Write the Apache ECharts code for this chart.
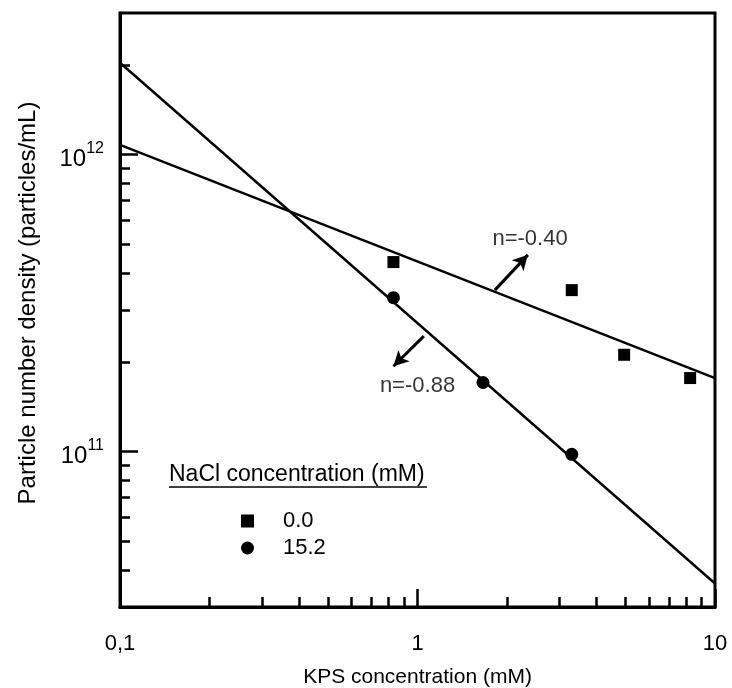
<!DOCTYPE html>
<html>
<head>
<meta charset="utf-8">
<script src="https://cdn.jsdelivr.net/npm/echarts@6/dist/echarts.min.js"></script>
<style>html,body{margin:0;background:#fff}#main{width:732px;height:688px}</style>
</head>
<body>
<div id="main"></div>
<script>
// KPS concentration (mM) / particle number density (particles/mL)
var kpsSquare = [0.83, 3.3, 4.95, 8.25];
var densSquare = [4.35e11, 3.5e11, 2.12e11, 1.77e11];
var kpsCircle = [0.83, 1.66, 3.3];
var densCircle = [3.3e11, 1.71e11, 0.98e11];
// power-law fits, end points at the axis limits
var fitX = [0.1, 10];
var fitSquare = [1.08e12, 1.77e11];
var fitCircle = [2.04e12, 3.6e10];
// slope notes and their arrows
var noteText = ['n=-0.40', 'n=-0.88'];
var notePos = [[2.39, 5.2e11], [1.0, 1.66e11]];
var arrowFrom = [[1.82, 3.5e11], [1.05, 2.45e11]];
var arrowTo = [[2.35, 4.6e11], [0.83, 1.94e11]];
// ticks
var xMajor = [0.1, 1, 10];
var xMinor = [0.2, 0.3, 0.4, 0.5, 0.6, 0.7, 0.8, 0.9, 2, 3, 4, 5, 6, 7, 8, 9];
var yMajor = [1e11, 1e12];
var yMinor = [4e10, 5e10, 6e10, 7e10, 8e10, 9e10, 2e11, 3e11, 4e11, 5e11, 6e11, 7e11, 8e11, 9e11, 2e12];

var FONT = '"Liberation Sans", Arial, sans-serif';

function pairs(xs, ys) {
  var out = [];
  for (var i = 0; i < xs.length; i++) out.push([xs[i], ys[i]]);
  return out;
}

var myChart = echarts.init(document.getElementById('main'));

var arrowData = [];
for (var i = 0; i < arrowFrom.length; i++) {
  arrowData.push([{coord: arrowFrom[i], symbol: 'none'}, {coord: arrowTo[i], symbol: 'arrow'}]);
}

function xAxisDef(ticks, len, withLabel) {
  return {
    type: 'log', logBase: 10, min: 0.1, max: 10,
    position: 'bottom',
    axisLine: {show: withLabel, lineStyle: {color: '#000', width: 3}},
    axisTick: {show: true, inside: true, length: len, customValues: ticks,
      lineStyle: {color: '#000', width: 2.5}},
    axisLabel: withLabel ? {
      show: true, customValues: xMajor, color: '#000', fontFamily: FONT, fontSize: 22, margin: 26,
      formatter: function (v) { return v < 0.5 ? '0,1' : String(Math.round(v)); }
    } : {show: false},
    splitLine: {show: false},
    name: withLabel ? 'KPS concentration (mM)' : '',
    nameLocation: 'middle', nameGap: 60,
    nameTextStyle: {color: '#000', fontFamily: FONT, fontSize: 21}
  };
}

function yAxisDef(ticks, len, withLabel) {
  return {
    type: 'log', logBase: 10, min: 3e10, max: 3e12,
    position: 'left',
    axisLine: {show: withLabel, lineStyle: {color: '#000', width: 3}},
    axisTick: {show: true, inside: true, length: len, customValues: ticks,
      lineStyle: {color: '#000', width: 2.5}},
    axisLabel: withLabel ? {
      show: true, customValues: yMajor, margin: 16,
      formatter: function (v) {
        var e = Math.round(Math.log(v) / Math.LN10);
        return '{b|10}{s|' + e + '}';
      },
      rich: {
        b: {color: '#000', fontFamily: FONT, fontSize: 24, lineHeight: 34, verticalAlign: 'bottom'},
        s: {color: '#000', fontFamily: FONT, fontSize: 16, lineHeight: 34, verticalAlign: 'top',
          padding: [3, 0, 0, 0]}
      }
    } : {show: false},
    splitLine: {show: false},
    name: withLabel ? 'Particle number density (particles/mL)' : '',
    nameLocation: 'middle', nameGap: 80,
    nameTextStyle: {color: '#000', fontFamily: FONT, fontSize: 24, padding: [0, 0, 0, 14]}
  };
}

var option = {
  animation: false,
  backgroundColor: '#fff',
  grid: {left: 120, right: 17, top: 13, bottom: 81, show: true, outerBoundsMode: 'none',
    containLabel: false, borderColor: '#000', borderWidth: 3, backgroundColor: 'transparent'},
  xAxis: [xAxisDef(xMajor, 18, true), xAxisDef(xMinor, 10, false)],
  yAxis: [yAxisDef(yMajor, 18, true), yAxisDef(yMinor, 10, false)],
  legend: {
    orient: 'vertical', left: 236, top: 505, itemWidth: 13, itemHeight: 13, itemGap: 5,
    data: ['0.0', '15.2'],
    textStyle: {color: '#000', fontFamily: FONT, fontSize: 22, padding: [0, 0, 0, 24]}
  },
  graphic: [
    {type: 'text', left: 169, top: 463,
      style: {text: 'NaCl concentration (mM)', fill: '#000', font: '23px ' + FONT}},
    {type: 'line', shape: {x1: 169, y1: 487, x2: 427, y2: 487},
      style: {stroke: '#000', lineWidth: 1.5}}
  ],
  series: [
    {
      name: 'fit 0.0', type: 'line', data: pairs(fitX, fitSquare),
      symbol: 'none', lineStyle: {color: '#000', width: 2.4}, silent: true,
      markLine: {
        silent: true, symbolSize: [12, 15], label: {show: false},
        lineStyle: {color: '#000', width: 3, type: 'solid'},
        data: arrowData
      }
    },
    {
      name: 'fit 15.2', type: 'line', data: pairs(fitX, fitCircle),
      symbol: 'none', lineStyle: {color: '#000', width: 2.4}, silent: true
    },
    {
      name: '0.0', type: 'scatter', data: pairs(kpsSquare, densSquare),
      symbol: 'rect', symbolSize: 12, itemStyle: {color: '#000', opacity: 1}
    },
    {
      name: '15.2', type: 'scatter', data: pairs(kpsCircle, densCircle),
      symbol: 'circle', symbolSize: 13, itemStyle: {color: '#000', opacity: 1}
    },
    {
      name: 'notes', type: 'scatter', symbolSize: 0, silent: true,
      data: notePos.map(function (p, k) { return {value: p, name: noteText[k]}; }),
      label: {show: true, position: 'inside', formatter: '{b}', color: '#000',
        fontFamily: FONT, fontSize: 22}
    }
  ]
};

myChart.setOption(option);
</script>
</body>
</html>
